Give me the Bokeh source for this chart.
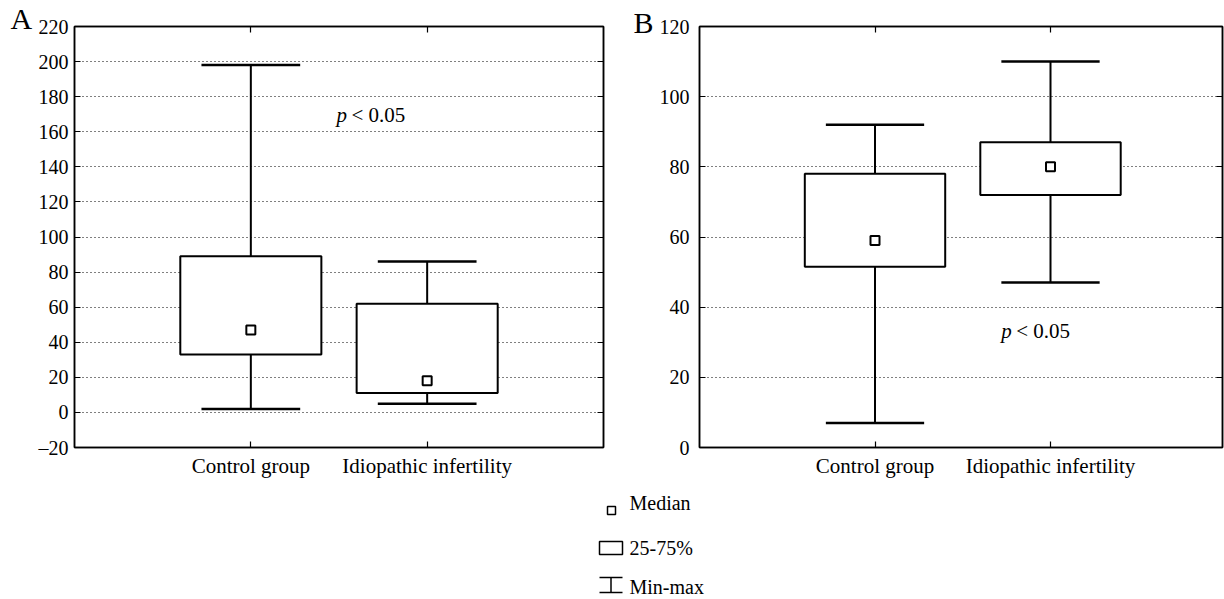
from bokeh.plotting import figure
from bokeh.models import Range1d, FixedTicker, LinearAxis
from bokeh.layouts import row, column
from bokeh.embed import file_html
from bokeh.resources import INLINE
from bokeh.core.properties import value

FONT = "Liberation Serif"

groups = ["Control group", "Idiopathic infertility"]
xpos = [1, 2]

# Panel A
a_min = [2, 5]
a_q1 = [33, 11]
a_med = [47, 18]
a_q3 = [89, 62]
a_max = [198, 86]
a_ticks = list(range(-20, 221, 20))

# Panel B
b_min = [7, 47]
b_q1 = [51.5, 72]
b_med = [59, 80]
b_q3 = [78, 87]
b_max = [92, 110]
b_ticks = list(range(0, 121, 20))

legend_labels = ["Median", "25-75%", "Min-max"]


def blank(width, height):
    f = figure(width=width, height=height, x_range=Range1d(0, width), y_range=Range1d(height, 0),
               output_backend="svg", toolbar_location=None, min_border=0)
    f.axis.visible = False
    f.grid.visible = False
    f.outline_line_color = None
    f.border_fill_color = "white"
    f.background_fill_color = "white"
    f.frame_align = False
    return f


def panel(width, xr, ylo, yhi, ticks, mn, q1, med, q3, mx, mbl, mbr, px, py, label_standoff):
    p = figure(width=width, height=480, x_range=Range1d(0, xr), y_range=Range1d(ylo, yhi),
               output_backend="svg", toolbar_location=None,
               min_border_left=mbl, min_border_right=mbr, min_border_top=26, min_border_bottom=31)
    p.background_fill_color = "white"
    p.border_fill_color = "white"
    p.outline_line_color = "black"
    p.outline_line_width = 1.5

    p.xaxis.ticker = FixedTicker(ticks=xpos)
    p.xaxis.major_label_overrides = {1: groups[0], 2: groups[1]}
    p.yaxis.ticker = FixedTicker(ticks=ticks)
    p.yaxis.major_label_overrides = {t: (("\u2013" + str(-t)) if t < 0 else str(t)) for t in ticks}
    for ax in p.xaxis + p.yaxis:
        ax.major_label_text_font = FONT
        ax.major_label_text_color = "black"
        ax.axis_line_color = "black"
        ax.axis_line_width = 1.5
        ax.major_tick_in = 6
        ax.major_tick_out = 0
        ax.major_tick_line_color = "black"
        ax.major_tick_line_width = 1.2
        ax.minor_tick_line_color = None
    p.xaxis.major_label_text_font_size = "21px"
    p.yaxis.major_label_text_font_size = "20px"
    p.xaxis.major_label_standoff = 6
    p.yaxis.major_label_standoff = label_standoff

    top = LinearAxis(ticker=FixedTicker(ticks=xpos), major_label_overrides={t: "" for t in xpos},
                     major_tick_in=6, major_tick_out=0, minor_tick_line_color=None,
                     axis_line_color="black", axis_line_width=1.5, major_tick_line_width=1.2)
    p.add_layout(top, "above")
    right = LinearAxis(ticker=FixedTicker(ticks=ticks), major_label_overrides={t: "" for t in ticks},
                       major_tick_in=6, major_tick_out=0, minor_tick_line_color=None,
                       axis_line_color="black", axis_line_width=1.5, major_tick_line_width=1.2)
    p.add_layout(right, "right")

    p.xgrid.visible = False
    p.ygrid.ticker = FixedTicker(ticks=[t for t in ticks if ylo < t < yhi])
    p.ygrid.grid_line_color = "black"
    p.ygrid.grid_line_dash = "1 3"
    p.ygrid.grid_line_width = 1

    # whiskers
    p.segment(x0=xpos, y0=q3, x1=xpos, y1=mx, line_color="black", line_width=2)
    p.segment(x0=xpos, y0=mn, x1=xpos, y1=q1, line_color="black", line_width=2)
    cap_l = [x - 0.28 for x in xpos]
    cap_r = [x + 0.28 for x in xpos]
    p.segment(x0=cap_l, y0=mx, x1=cap_r, y1=mx, line_color="black", line_width=2.5)
    p.segment(x0=cap_l, y0=mn, x1=cap_r, y1=mn, line_color="black", line_width=2.5)
    # boxes
    p.vbar(x=xpos, width=0.8, bottom=q1, top=q3, fill_color="white", line_color="black", line_width=2)
    # medians
    p.scatter(x=xpos, y=med, marker="square", size=9, fill_color="white", line_color="black", line_width=2)

    # p-value
    p.text(x=[px], y=[py], text=["p"], text_font=value(FONT), text_font_style="italic",
           text_font_size="21px", text_baseline="middle", text_align="left", text_color="black")
    p.text(x=[px], y=[py], text=["< 0.05"], text_font=value(FONT), x_offset=15,
           text_font_size="21px", text_baseline="middle", text_align="left", text_color="black")
    return p


# panel letters
fA = blank(33, 480)
fA.text(x=[10], y=[18], text=["A"], text_font=value(FONT), text_font_size="30px",
        text_baseline="middle", text_align="left", text_color="black")
fB = blank(27, 480)
fB.text(x=[5], y=[22], text=["B"], text_font=value(FONT), text_font_size="30px",
        text_baseline="middle", text_align="left", text_color="black")

pA = panel(595, 3.0, -20, 220, a_ticks, a_min, a_q1, a_med, a_q3, a_max, 41, 25, 1.486, 169.5, 6)
pB = panel(569, 2.98, 0, 120, b_ticks, b_min, b_q1, b_med, b_q3, b_max, 44, 2, 1.719, 33.3, 10)

# legend
pL = blank(1224, 119)
pL.scatter(x=[611], y=[30], marker="square", size=8, fill_color="white", line_color="black", line_width=1.5)
pL.quad(left=[599], right=[622], top=[61], bottom=[74], fill_color="white", line_color="black", line_width=1.5)
pL.segment(x0=[599, 610.5, 599], y0=[97, 97, 112], x1=[622, 610.5, 622], y1=[97, 112, 112],
           line_color="black", line_width=1.5)
pL.text(x=[629, 629, 629], y=[22, 67, 106], text=legend_labels,
        text_font=value(FONT), text_font_size="20px", text_baseline="middle", text_align="left",
        text_color="black")

layout = column(row(fA, pA, fB, pB), pL)
open("out.html", "w").write(file_html(layout, INLINE))
